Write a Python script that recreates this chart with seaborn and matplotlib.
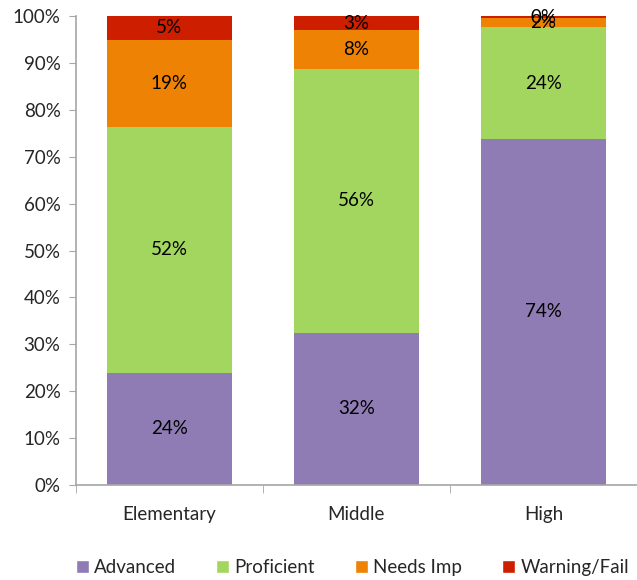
import numpy as np
import pandas as pd
import matplotlib
matplotlib.use("Agg")
import matplotlib.pyplot as plt
import seaborn as sns
from matplotlib.patches import Patch
from matplotlib.ticker import PercentFormatter

# ------------------------------
# Data
# ------------------------------
schools = ["Elementary", "Middle", "High"]
levels = ["Advanced", "Proficient", "Needs Imp", "Warning/Fail"]
advanced = [23.9, 32.4, 73.8]
proficient = [52.5, 56.4, 23.9]
needs_imp = [18.6, 8.3, 1.9]
warning = [5.0, 2.9, 0.4]
colors = ["#8F7CB4", "#A2D65F", "#ED8204", "#CD1E00"]

df = pd.DataFrame({"School": schools, "Advanced": advanced, "Proficient": proficient,
                   "Needs Imp": needs_imp, "Warning/Fail": warning})

sns.set_style("white")
plt.rcParams['font.family'] = ['Lato', 'DejaVu Sans']

fig = plt.figure(figsize=(6.37, 5.8), dpi=100)
ax = fig.add_axes([0.119, 0.164, 0.881, 0.808])

# stacked bars: draw cumulative totals, tallest first
cum = df[levels].cumsum(axis=1)
for lvl, col in reversed(list(zip(levels, colors))):
    sns.barplot(x=df["School"], y=cum[lvl], color=col, saturation=1,
                width=0.667, ax=ax, order=schools, linewidth=0)

# segment labels
for i in range(len(schools)):
    base = 0
    for lvl in levels:
        v = df.loc[i, lvl]
        ax.text(i, base + v / 2, f"{v:.0f}%", ha="center", va="center",
                fontsize=13.5, color="black")
        base += v

ax.set_ylim(0, 100)
ax.set_xlim(-0.5, 2.5)
ax.set_yticks(np.arange(0, 101, 10))
ax.yaxis.set_major_formatter(PercentFormatter(decimals=0))
ax.set_xlabel("")
ax.set_ylabel("")

for s in ["top", "right"]:
    ax.spines[s].set_visible(False)
for s in ["left", "bottom"]:
    ax.spines[s].set_color("#A6A6A6")
    ax.spines[s].set_linewidth(1.2)

ax.tick_params(axis="y", which="major", left=True, length=5, color="#A6A6A6",
               labelsize=13.5, pad=6)
ax.tick_params(axis="x", which="major", bottom=False, labelsize=13.5, pad=12)
ax.set_xticks([-0.5, 0.5, 1.5, 2.5], minor=True)
ax.tick_params(axis="x", which="minor", bottom=True, length=6, color="#A6A6A6")

handles = [Patch(facecolor=c, label=l) for l, c in zip(levels, colors)]
fig.legend(handles=handles, loc="center", bbox_to_anchor=(0.553, 0.022), ncol=4,
           frameon=False, fontsize=13.5, handlelength=0.7, handleheight=0.7,
           handletextpad=0.3, columnspacing=2.1)

fig.savefig("out.png", dpi=100)
